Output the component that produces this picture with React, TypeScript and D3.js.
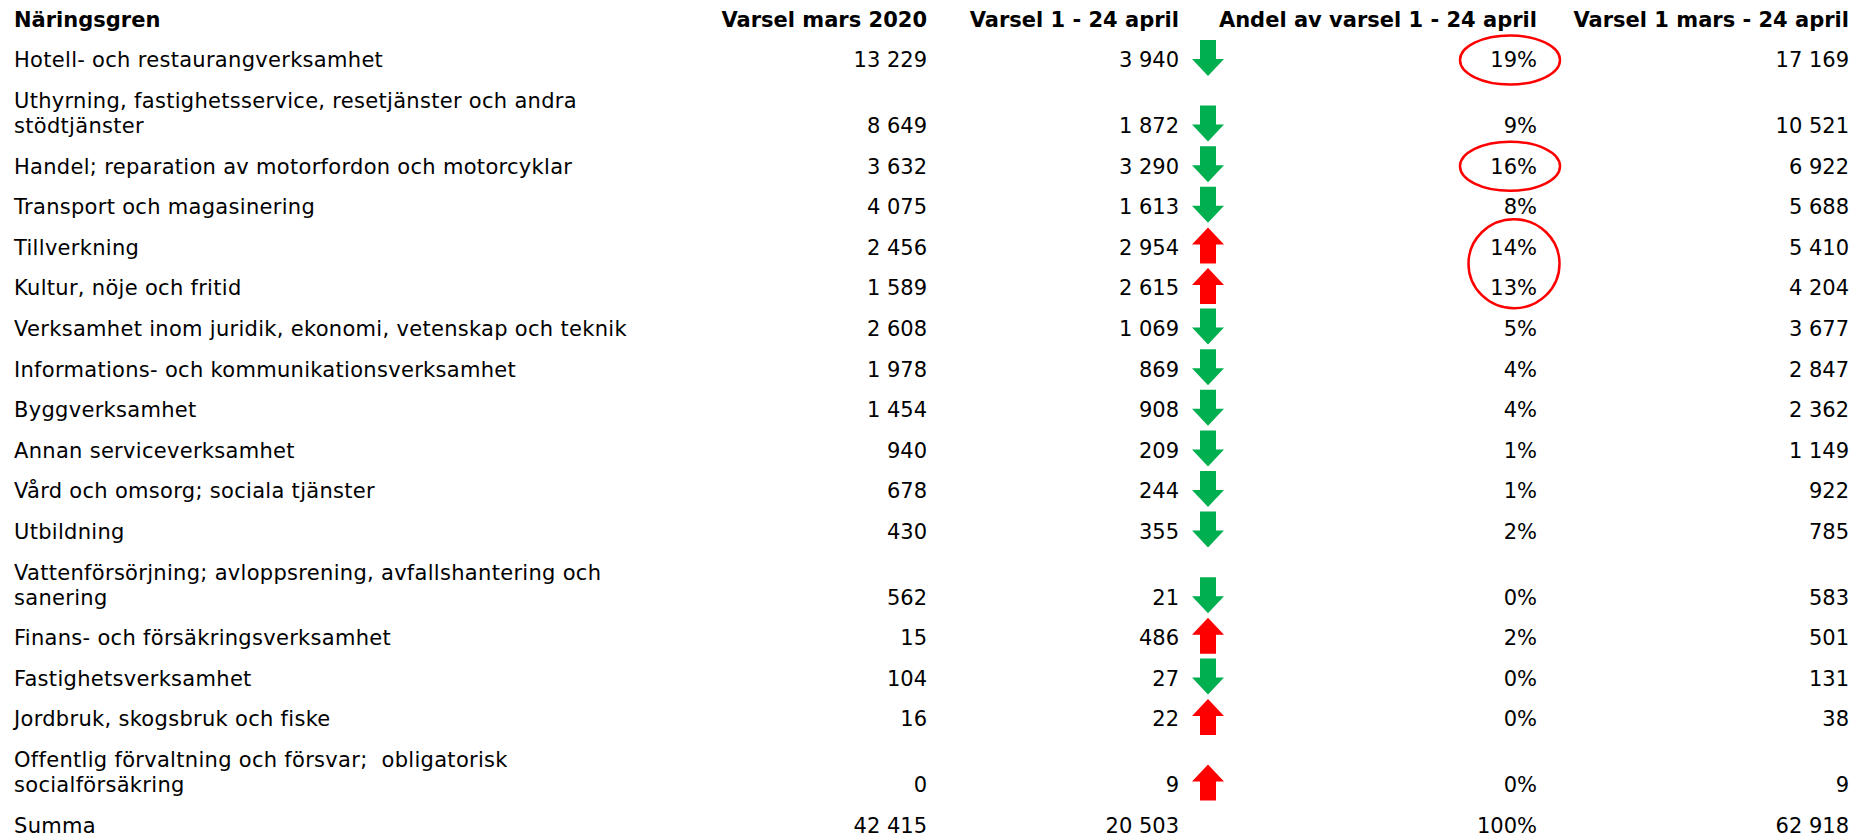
import React from "react";
import * as d3 from "d3";

// ---------- data ----------
const headers = [
  "Näringsgren",
  "Varsel mars 2020",
  "Varsel 1 - 24 april",
  "Andel av varsel 1 - 24 april",
  "Varsel 1 mars - 24 april",
];

const categories = [
  "Hotell- och restaurangverksamhet",
  "Uthyrning, fastighetsservice, resetjänster och andra\nstödtjänster",
  "Handel; reparation av motorfordon och motorcyklar",
  "Transport och magasinering",
  "Tillverkning",
  "Kultur, nöje och fritid",
  "Verksamhet inom juridik, ekonomi, vetenskap och teknik",
  "Informations- och kommunikationsverksamhet",
  "Byggverksamhet",
  "Annan serviceverksamhet",
  "Vård och omsorg; sociala tjänster",
  "Utbildning",
  "Vattenförsörjning; avloppsrening, avfallshantering och\nsanering",
  "Finans- och försäkringsverksamhet",
  "Fastighetsverksamhet",
  "Jordbruk, skogsbruk och fiske",
  "Offentlig förvaltning och försvar;  obligatorisk\nsocialförsäkring",
];

const varselMars = [13229, 8649, 3632, 4075, 2456, 1589, 2608, 1978, 1454, 940, 678, 430, 562, 15, 104, 16, 0];
const varselApril = [3940, 1872, 3290, 1613, 2954, 2615, 1069, 869, 908, 209, 244, 355, 21, 486, 27, 22, 9];
const andelApril = [19, 9, 16, 8, 14, 13, 5, 4, 4, 1, 1, 2, 0, 2, 0, 0, 0];
const varselTotal = [17169, 10521, 6922, 5688, 5410, 4204, 3677, 2847, 2362, 1149, 922, 785, 583, 501, 131, 38, 9];

const summaLabel = "Summa";
const summaValues = [42415, 20503, 100, 62918];

// rows whose share is circled
const highlightGroups = [[0], [2], [4, 5]];

// ---------- layout ----------
const W = 1856;
const H = 838;
const FONT = "'DejaVu Sans', Verdana, sans-serif";
const FS = 21;
const LINE_H = 25;
const labelX = 14;
const colRight = [927, 1179, 1537, 1849];
const arrowX = 1208;

const fmt = d3
  .formatLocale({ decimal: ",", thousands: " ", grouping: [3], currency: ["", ""] })
  .format(",d");

export default function App() {
  const lineCounts = categories.map((c) => c.split("\n").length);
  const extra = Array.from(d3.cumsum(lineCounts.map((c) => c - 1)));
  const rowScale = d3.scaleLinear().domain([0, 1]).range([60, 100.6]);
  const headerY = 20;
  const rowY = (i: number) =>
    rowScale(i) + LINE_H * (i < extra.length ? extra[i] : extra[extra.length - 1]);

  const arrowPath = (cx: number, cy: number, up: boolean) => {
    const h = 36;
    const hh = 17;
    const hw = 16;
    const sw = 8;
    const top = cy - h / 2;
    const bot = cy + h / 2;
    if (up) {
      return `M${cx},${top} L${cx + hw},${top + hh} L${cx + sw},${top + hh} L${cx + sw},${bot} L${cx - sw},${bot} L${cx - sw},${top + hh} L${cx - hw},${top + hh} Z`;
    }
    return `M${cx},${bot} L${cx + hw},${bot - hh} L${cx + sw},${bot - hh} L${cx + sw},${top} L${cx - sw},${top} L${cx - sw},${bot - hh} L${cx - hw},${bot - hh} Z`;
  };

  const summaIdx = categories.length;
  const ySum = rowY(summaIdx);

  return (
    <svg
      width={W}
      height={H}
      style={{ position: "absolute", left: 0, top: 0, display: "block", background: "#fff" }}
      fontFamily={FONT}
      fontSize={FS}
    >
      {/* header */}
      <g fontWeight="bold" fill="#000">
        <text x={labelX} y={headerY} dy="0.35em">
          {headers[0]}
        </text>
        {headers.slice(1).map((h, j) => (
          <text key={h} x={colRight[j]} y={headerY} dy="0.35em" textAnchor="end">
            {h}
          </text>
        ))}
      </g>

      {/* rows */}
      {categories.map((cat, i) => {
        const y = rowY(i);
        const lines = cat.split("\n");
        const up = varselApril[i] > varselMars[i];
        return (
          <g key={cat} fill="#000">
            {lines.map((ln, k) => (
              <text
                key={k}
                x={labelX}
                y={y - (lines.length - 1 - k) * LINE_H}
                dy="0.35em"
                letterSpacing={0.3}
                style={{ whiteSpace: "pre" }}
              >
                {ln}
              </text>
            ))}
            <text x={colRight[0]} y={y} dy="0.35em" textAnchor="end">
              {fmt(varselMars[i])}
            </text>
            <text x={colRight[1]} y={y} dy="0.35em" textAnchor="end">
              {fmt(varselApril[i])}
            </text>
            <path d={arrowPath(arrowX, y - 2, up)} fill={up ? "#ff0000" : "#00b050"} />
            <text x={colRight[2]} y={y} dy="0.35em" textAnchor="end">
              {andelApril[i] + "%"}
            </text>
            <text x={colRight[3]} y={y} dy="0.35em" textAnchor="end">
              {fmt(varselTotal[i])}
            </text>
          </g>
        );
      })}

      {/* summa */}
      <g fill="#000">
        <text x={labelX} y={ySum} dy="0.35em" letterSpacing={0.3}>
          {summaLabel}
        </text>
        <text x={colRight[0]} y={ySum} dy="0.35em" textAnchor="end">
          {fmt(summaValues[0])}
        </text>
        <text x={colRight[1]} y={ySum} dy="0.35em" textAnchor="end">
          {fmt(summaValues[1])}
        </text>
        <text x={colRight[2]} y={ySum} dy="0.35em" textAnchor="end">
          {summaValues[2] + "%"}
        </text>
        <text x={colRight[3]} y={ySum} dy="0.35em" textAnchor="end">
          {fmt(summaValues[3])}
        </text>
      </g>

      {/* highlight ellipses */}
      {highlightGroups.map((g, k) => {
        const ys = g.map((i) => rowY(i));
        const multi = g.length > 1;
        const cy = multi ? (d3.mean(ys) as number) - 4 : ys[0];
        const cx = colRight[2] - (multi ? 23 : 27);
        const rx = multi ? 45.5 : 50;
        const ry = multi ? 44.5 : 24.5;
        return (
          <ellipse
            key={k}
            cx={cx}
            cy={cy}
            rx={rx}
            ry={ry}
            fill="none"
            stroke="#ff0000"
            strokeWidth={2.5}
          />
        );
      })}
    </svg>
  );
}
